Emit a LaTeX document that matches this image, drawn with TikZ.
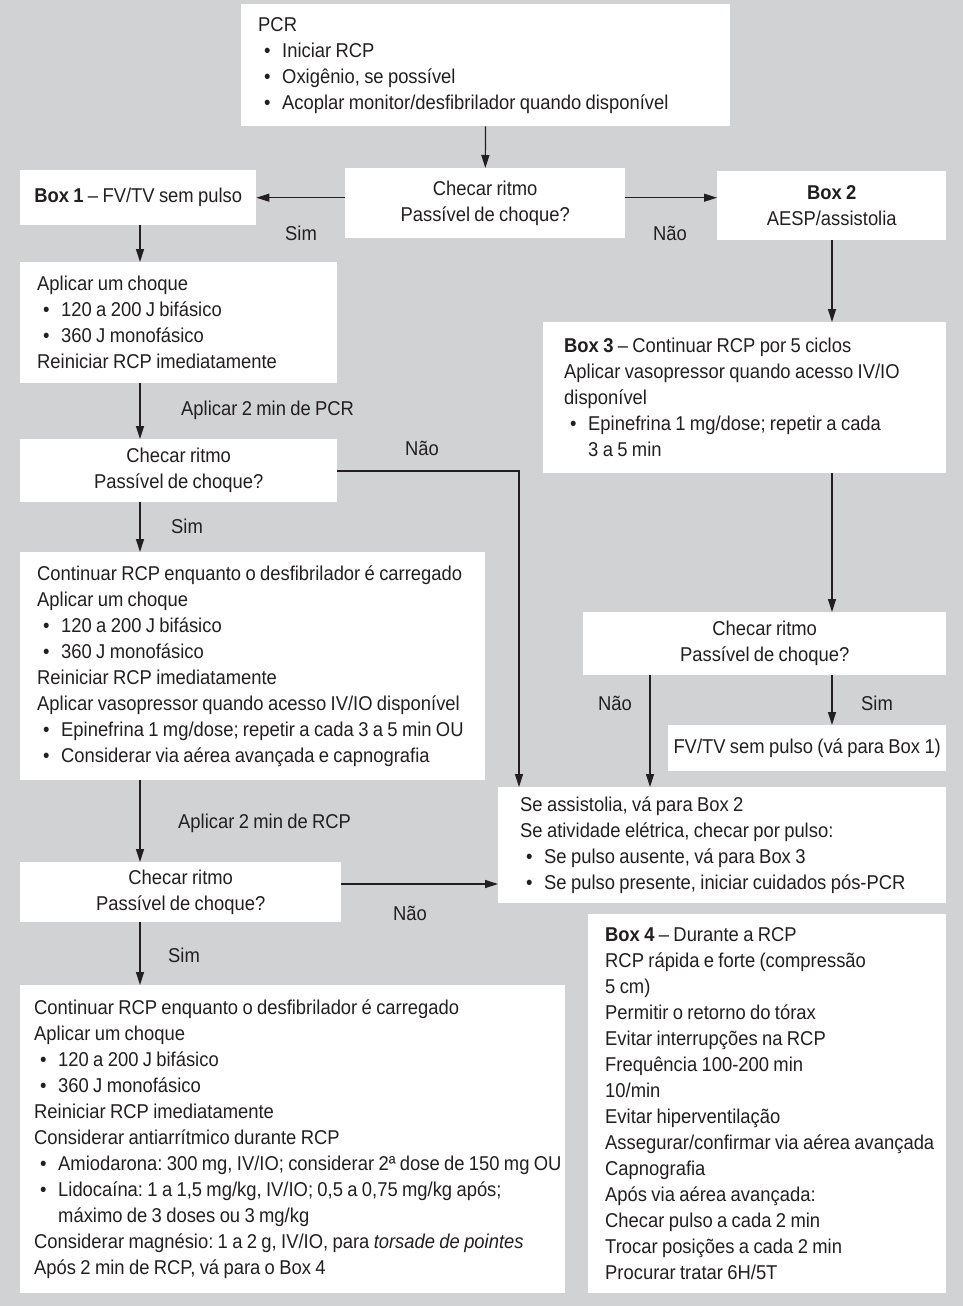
\documentclass[tikz,border=0pt]{standalone}
\usepackage{fontspec}
\setmainfont[FakeStretch=0.92,WordSpace=0.85]{Liberation Sans}
\usetikzlibrary{arrows.meta}
\definecolor{bggrey}{RGB}{209,210,212}
\definecolor{ink}{RGB}{35,31,32}
\newcommand{\bul}{\hspace*{6pt}\makebox[18pt][l]{\textbullet}}
\newcommand{\hng}{\hspace*{24pt}}
\newcommand{\fixspace}{\spaceskip=\fontdimen2\font\xspaceskip=\fontdimen2\font}
\frenchspacing

\begin{document}
\begin{tikzpicture}[x=1pt,y=-1pt,
  every node/.style={text=ink,font=\fontsize{20}{26}\selectfont},
  box/.style={fill=white,anchor=north west,inner xsep=17pt,inner ysep=0pt},
  blk/.style={box,align=left,execute at begin node={\fixspace\rightskip=-16pt plus 1fil\relax}},
  mid/.style={box,align=center,execute at begin node={\fixspace\relax}},
  lbl/.style={inner sep=0pt},
  arr/.style={draw=ink,line width=1.2pt,-{Triangle[length=13pt,width=8pt]}}]
\fill[bggrey] (0,0) rectangle (963,1306);
% boxes
\node[blk,text width=455pt,minimum height=122pt] (pcr) at (241,4)
  {PCR\\ \bul Iniciar RCP\\ \bul Oxigênio, se possível\\ \bul Acoplar monitor/desfibrilador quando disponível};
\node[mid,text width=246pt,minimum height=70pt] (chk1) at (345,168) {Checar ritmo\\ Passível de choque?};
\node[mid,inner xsep=6pt,text width=224pt,minimum height=55pt] (box1) at (20,170) {\textbf{Box 1} – FV/TV sem pulso};
\node[mid,text width=195pt,minimum height=69pt] (box2) at (717,171) {\textbf{Box 2}\\ AESP/assistolia};
\node[blk,text width=283pt,minimum height=121pt] (shock1) at (20,262)
  {Aplicar um choque\\ \bul 120 a 200 J bifásico\\ \bul 360 J monofásico\\ Reiniciar RCP imediatamente};
\node[blk,inner xsep=21pt,text width=361pt,minimum height=151pt] (box3) at (543,322)
  {\textbf{Box 3} – Continuar RCP por 5 ciclos\\ Aplicar vasopressor quando acesso IV/IO\\ disponível\\
   \bul Epinefrina 1 mg/dose; repetir a cada\\ \hng 3 a 5 min};
\node[mid,text width=283pt,minimum height=63pt] (chk2) at (20,439) {Checar ritmo\\ Passível de choque?};
\node[blk,text width=431pt,minimum height=228pt] (shock2) at (20,552)
  {Continuar RCP enquanto o desfibrilador é carregado\\ Aplicar um choque\\ \bul 120 a 200 J bifásico\\
   \bul 360 J monofásico\\ Reiniciar RCP imediatamente\\ Aplicar vasopressor quando acesso IV/IO disponível\\
   \bul Epinefrina 1 mg/dose; repetir a cada 3 a 5 min OU\\ \bul Considerar via aérea avançada e capnografia};
\node[mid,text width=329pt,minimum height=63pt] (chk3r) at (583,612) {Checar ritmo\\ Passível de choque?};
\node[mid,inner xsep=2pt,text width=274pt,minimum height=46pt] (fvtv) at (668,725) {FV/TV sem pulso (vá para Box 1)};
\node[blk,inner xsep=22pt,text width=404pt,minimum height=116pt] (assist) at (498,787)
  {Se assistolia, vá para Box 2\\ Se atividade elétrica, checar por pulso:\\
   \bul Se pulso ausente, vá para Box 3\\ \bul Se pulso presente, iniciar cuidados pós-PCR};
\node[mid,text width=287pt,minimum height=60pt] (chk3) at (20,862) {Checar ritmo\\ Passível de choque?};
\node[blk,text width=324pt,minimum height=379pt] (box4) at (588,914)
  {\textbf{Box 4} – Durante a RCP\\ RCP rápida e forte (compressão\\ 5 cm)\\ Permitir o retorno do tórax\\
   Evitar interrupções na RCP\\ Frequência 100-200 min\\ 10/min\\ Evitar hiperventilação\\
   Assegurar/confirmar via aérea avançada\\ Capnografia\\ Após via aérea avançada:\\
   Checar pulso a cada 2 min\\ Trocar posições a cada 2 min\\ Procurar tratar 6H/5T};
\node[blk,inner xsep=14pt,text width=517pt,minimum height=308pt] (shock3) at (20,985)
  {Continuar RCP enquanto o desfibrilador é carregado\\ Aplicar um choque\\ \bul 120 a 200 J bifásico\\
   \bul 360 J monofásico\\ Reiniciar RCP imediatamente\\ Considerar antiarrítmico durante RCP\\
   \bul Amiodarona: 300 mg, IV/IO; considerar 2ª dose de 150 mg OU\\
   \bul Lidocaína: 1 a 1,5 mg/kg, IV/IO; 0,5 a 0,75 mg/kg após;\\ \hng máximo de 3 doses ou 3 mg/kg\\
   Considerar magnésio: 1 a 2 g, IV/IO, para \textit{torsade de pointes}\\ Após 2 min de RCP, vá para o Box 4};
% labels
\node[lbl] (sim1) at (301,233) {Sim};
\node[lbl] (nao1) at (670,233) {Não};
\node[lbl,anchor=west] (min1) at (181,410) {Aplicar 2 min de PCR};
\node[lbl] (nao2) at (422,448) {Não};
\node[lbl] (sim2) at (187,526) {Sim};
\node[lbl] (nao3) at (615,703) {Não};
\node[lbl] (sim3) at (877,703) {Sim};
\node[lbl,anchor=west] (min2) at (178,823) {Aplicar 2 min de RCP};
\node[lbl] (nao4) at (410,913) {Não};
\node[lbl] (sim4) at (184,955) {Sim};
% connectors
\coordinate (colL) at (140,0);
\coordinate (colR) at (832,0);
\coordinate (colN) at (650,0);
\coordinate (turn) at (519,471);
\coordinate (rowA) at (0,884);
\draw[arr] (pcr) -- (chk1);
\draw[arr] (chk1.west |- box1) -- (box1.east);
\draw[arr] (chk1.east |- box1) -- (box2.west |- box1);
\draw[arr] (box1.south -| colL) -- (shock1.north -| colL);
\draw[arr] (box2.south -| colR) -- (box3.north -| colR);
\draw[arr] (shock1.south -| colL) -- (chk2.north -| colL);
\draw[arr] (chk2.east |- turn) -- (turn) -- (assist.north -| turn);
\draw[arr] (chk2.south -| colL) -- (shock2.north -| colL);
\draw[arr] (box3.south -| colR) -- (chk3r.north -| colR);
\draw[arr] (chk3r.south -| colN) -- (assist.north -| colN);
\draw[arr] (chk3r.south -| colR) -- (fvtv.north -| colR);
\draw[arr] (shock2.south -| colL) -- (chk3.north -| colL);
\draw[arr] (chk3.east |- rowA) -- (assist.west |- rowA);
\draw[arr] (chk3.south -| colL) -- (shock3.north -| colL);
\end{tikzpicture}
\end{document}
